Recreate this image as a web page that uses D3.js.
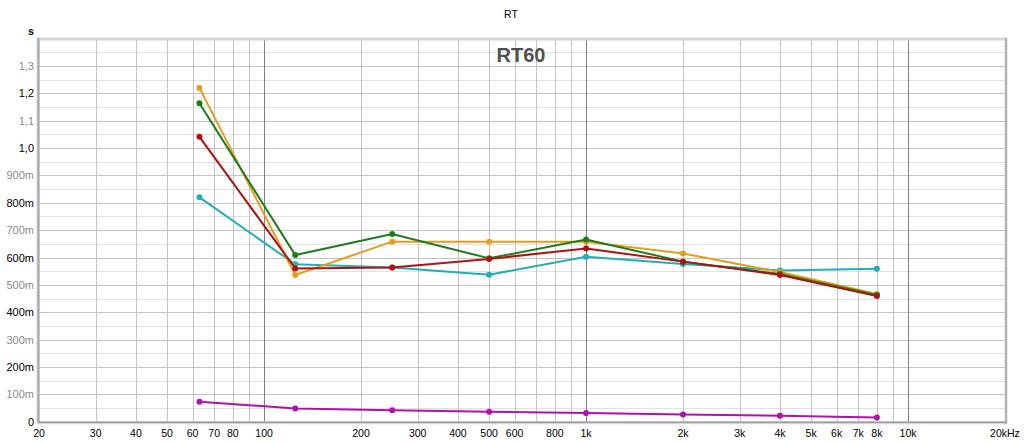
<!DOCTYPE html>
<html>
<head>
<meta charset="utf-8">
<title>RT</title>
<script src="https://cdn.jsdelivr.net/npm/d3@7"></script>
<style>
  body { margin: 0; background: #fff; }
  svg text { font-family: "Liberation Sans", Arial, sans-serif; }
</style>
</head>
<body>
<svg id="chart" width="1024" height="443"></svg>
<script>
// octave band centres (Hz)
const bands = [63, 125, 250, 500, 1000, 2000, 4000, 8000];

// RT60 per measurement, seconds
const seriesOrange  = [1.220, 0.536, 0.658, 0.658, 0.658, 0.615, 0.547, 0.467];
const seriesGreen   = [1.164, 0.609, 0.686, 0.597, 0.666, 0.585, 0.540, 0.463];
const seriesRed     = [1.041, 0.560, 0.564, 0.595, 0.633, 0.585, 0.536, 0.459];
const seriesCyan    = [0.820, 0.575, 0.564, 0.537, 0.603, 0.576, 0.553, 0.559];
const seriesMagenta = [0.073, 0.048, 0.042, 0.036, 0.032, 0.026, 0.022, 0.015];

const seriesColors = ["#b010b0", "#1eb0b4", "#e69c1e", "#1c7c1c", "#b01212"];

// axis ticks
const xTicks = [20, 30, 40, 50, 60, 70, 80, 100, 200, 300, 400, 500, 600, 800,
                1000, 2000, 3000, 4000, 5000, 6000, 7000, 8000, 10000, 20000];
const xTickLabels = ["20", "30", "40", "50", "60", "70", "80", "100", "200", "300", "400", "500", "600", "800",
                     "1k", "2k", "3k", "4k", "5k", "6k", "7k", "8k", "10k", "20kHz"];
const yTicks = [0, 0.1, 0.2, 0.3, 0.4, 0.5, 0.6, 0.7, 0.8, 0.9, 1.0, 1.1, 1.2, 1.3];
const yTickLabels = ["0", "100m", "200m", "300m", "400m", "500m", "600m", "700m", "800m", "900m", "1,0", "1,1", "1,2", "1,3"];

const svg = d3.select("#chart");
const pL = 39, pR = 1005, pT = 40, pB = 421.7;

const x = d3.scaleLog().domain([20, 20000]).range([pL, pR]);
const y = d3.scaleLinear().domain([0, 1.395]).range([pB, pT]);

// grid lines: every 1,2..9 per decade
let gridX = [];
[10, 100, 1000, 10000].forEach(d => {
  for (let k = 1; k <= 9; k++) {
    const f = d * k;
    if (f > 20 && f < 20000) gridX.push(f);
  }
});
const decades = [100, 1000, 10000];

const g = svg.append("g");

// horizontal minor (50m) then major (100m)
d3.range(0.05, 1.39, 0.1).forEach(v => {
  g.append("line").attr("x1", pL).attr("x2", pR)
    .attr("y1", Math.round(y(v)) + 0.5).attr("y2", Math.round(y(v)) + 0.5)
    .attr("stroke", "#e2e2e2");
});
yTicks.slice(1).forEach(v => {
  g.append("line").attr("x1", pL).attr("x2", pR)
    .attr("y1", Math.round(y(v)) + 0.5).attr("y2", Math.round(y(v)) + 0.5)
    .attr("stroke", "#c4c4c4");
});

gridX.forEach(f => {
  const isDec = decades.includes(f);
  g.append("line")
    .attr("x1", Math.round(x(f)) + 0.5).attr("x2", Math.round(x(f)) + 0.5)
    .attr("y1", pT).attr("y2", pB)
    .attr("stroke", isDec ? "#808080" : "#c4c4c4");
});

// frame with bevel look
svg.append("rect").attr("x", pL - 1).attr("y", pT - 1)
  .attr("width", pR - pL + 2).attr("height", pB - pT + 2)
  .attr("fill", "none").attr("stroke", "#d4d4d4").attr("stroke-width", 3);
svg.append("line").attr("x1", pL - 0.5).attr("x2", pL - 0.5).attr("y1", pT - 2).attr("y2", pB + 1)
  .attr("stroke", "#a8a8a8").attr("stroke-width", 2);
svg.append("line").attr("x1", pR + 1).attr("x2", pR + 1).attr("y1", pT - 2).attr("y2", pB + 2)
  .attr("stroke", "#b4b4b4").attr("stroke-width", 2);
svg.append("line").attr("x1", pL - 1).attr("x2", pR + 2).attr("y1", pB + 0.5).attr("y2", pB + 0.5)
  .attr("stroke", "#a0a0a0").attr("stroke-width", 1.5);

// y labels, alternating black / gray
yTicks.forEach((v, i) => {
  svg.append("text")
    .attr("x", 34).attr("y", y(v) + 4)
    .attr("text-anchor", "end")
    .attr("font-size", 11)
    .attr("fill", i % 2 === 0 ? "#000" : "#8a8a8a")
    .text(yTickLabels[i]);
});

// x labels
xTicks.forEach((f, i) => {
  svg.append("text")
    .attr("x", x(f)).attr("y", 437)
    .attr("text-anchor", "middle")
    .attr("font-size", 10.5)
    .attr("fill", "#000")
    .text(xTickLabels[i]);
});

// titles
svg.append("text").attr("x", 511).attr("y", 18).attr("text-anchor", "middle")
  .attr("font-size", 10.5).text("RT");
svg.append("text").attr("x", 31).attr("y", 35).attr("text-anchor", "middle")
  .attr("font-size", 10).attr("font-weight", "bold").text("s");
svg.append("text").attr("x", 521).attr("y", 62).attr("text-anchor", "middle")
  .attr("font-size", 20).attr("font-weight", "bold").attr("fill", "#505050")
  .text("RT60");

// series
const allSeries = [seriesMagenta, seriesCyan, seriesOrange, seriesGreen, seriesRed];
const line = d3.line().x((d, i) => x(bands[i])).y(d => y(d));

allSeries.forEach((s, k) => {
  svg.append("path").datum(s)
    .attr("d", line)
    .attr("fill", "none")
    .attr("stroke", seriesColors[k])
    .attr("stroke-width", 2);
  svg.selectAll(null).data(s).enter().append("circle")
    .attr("cx", (d, i) => x(bands[i]))
    .attr("cy", d => y(d))
    .attr("r", 3)
    .attr("fill", seriesColors[k]);
});
</script>
</body>
</html>
